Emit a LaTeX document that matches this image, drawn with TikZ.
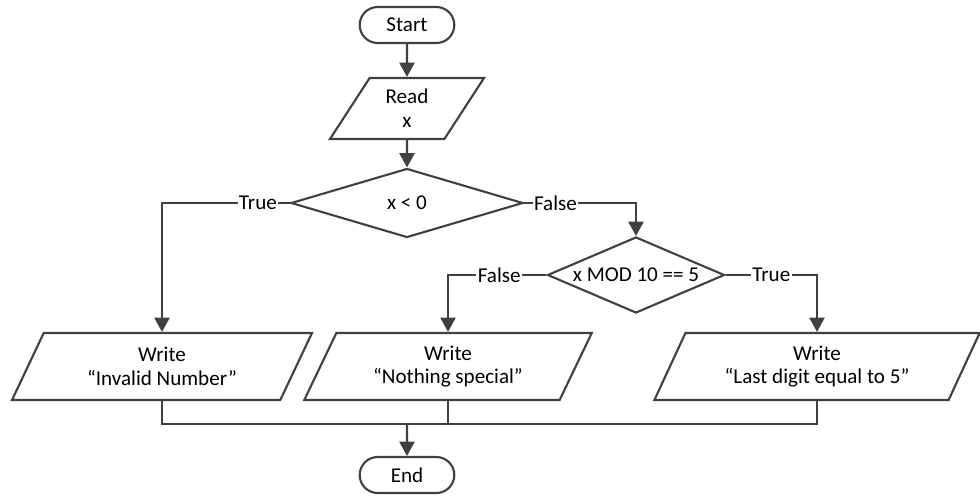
\documentclass[tikz,border=0pt]{standalone}
\usepackage{fontspec}
\setmainfont{Carlito}
\usetikzlibrary{shapes.geometric,shapes.misc,arrows.meta,positioning}
\definecolor{linegray}{HTML}{404040}
\tikzset
{
    terminal/.style = {rounded rectangle, draw=linegray, line width=1.5pt, align=center, minimum width=2.6cm, minimum height=0.9cm},
    readbox/.style  = {trapezium, trapezium left angle=60, trapezium right angle=120, trapezium stretches=true, draw=linegray, line width=1.5pt, align=center, minimum width=3.875cm, minimum height=1.525cm},
    writebox/.style = {trapezium, trapezium left angle=66, trapezium right angle=114, trapezium stretches=true, draw=linegray, line width=1.5pt, align=center, minimum height=1.675cm},
    decision/.style = {diamond, draw=linegray, line width=1.5pt, align=center, inner sep=0pt},
    flow/.style     = {draw=linegray, line width=1.5pt, -{Triangle[length=3.6mm,width=3.8mm]}},
    link/.style     = {draw=linegray, line width=1.5pt},
    answer/.style   = {fill=white, inner sep=1pt}
}

\begin{document}
\begin{tikzpicture}
	[x=0.025cm, y=-0.025cm, font=\fontsize{15}{17}\selectfont]
	\useasboundingbox (0,0) rectangle (980,495);
	\node[terminal] (start) at (407,25) {Start};
	\node[readbox] (read) at (407,108.5) {Read\\x};
	\node[decision, aspect=3.36, minimum width=5.8cm, minimum height=1.725cm] (d1) at (407,203) {x < 0};
	\node[decision, aspect=2.33, minimum width=4.425cm, minimum height=1.9cm] (d2) at (636,275) {x MOD 10 == 5};
	\node[writebox, minimum width=7.5cm] (w1) at (162,366.5) {Write\\“Invalid Number”};
	\node[writebox, minimum width=7.2cm] (w2) at (448,366.5) {Write\\“Nothing special”};
	\node[writebox, minimum width=8.15cm] (w3) at (817,366.5) {Write\\“Last digit equal to 5”};
	\coordinate (merge) at (407,424);
	\node[terminal] (end) at (407,475) {End};

	\draw[flow] (start) -- (read);
	\draw[flow] (read) -- (d1);
	\draw[flow] (d1.west) -| node[answer, pos=0.125]{True} (w1.north);
	\draw[flow] (d1.east) -| node[answer, pos=0.14]{False} (d2.north);
	\draw[flow] (d2.west) -| node[answer, pos=0.24]{False} (w2.north);
	\draw[flow] (d2.east) -| node[answer, pos=0.25]{True} (w3.north);
	\draw[link] (w1.south) |- (merge) -| (w3.south);
	\draw[link] (w2.south) -- (w2.south |- merge);
	\draw[flow] (merge) -- (end);
\end{tikzpicture}
\end{document}
